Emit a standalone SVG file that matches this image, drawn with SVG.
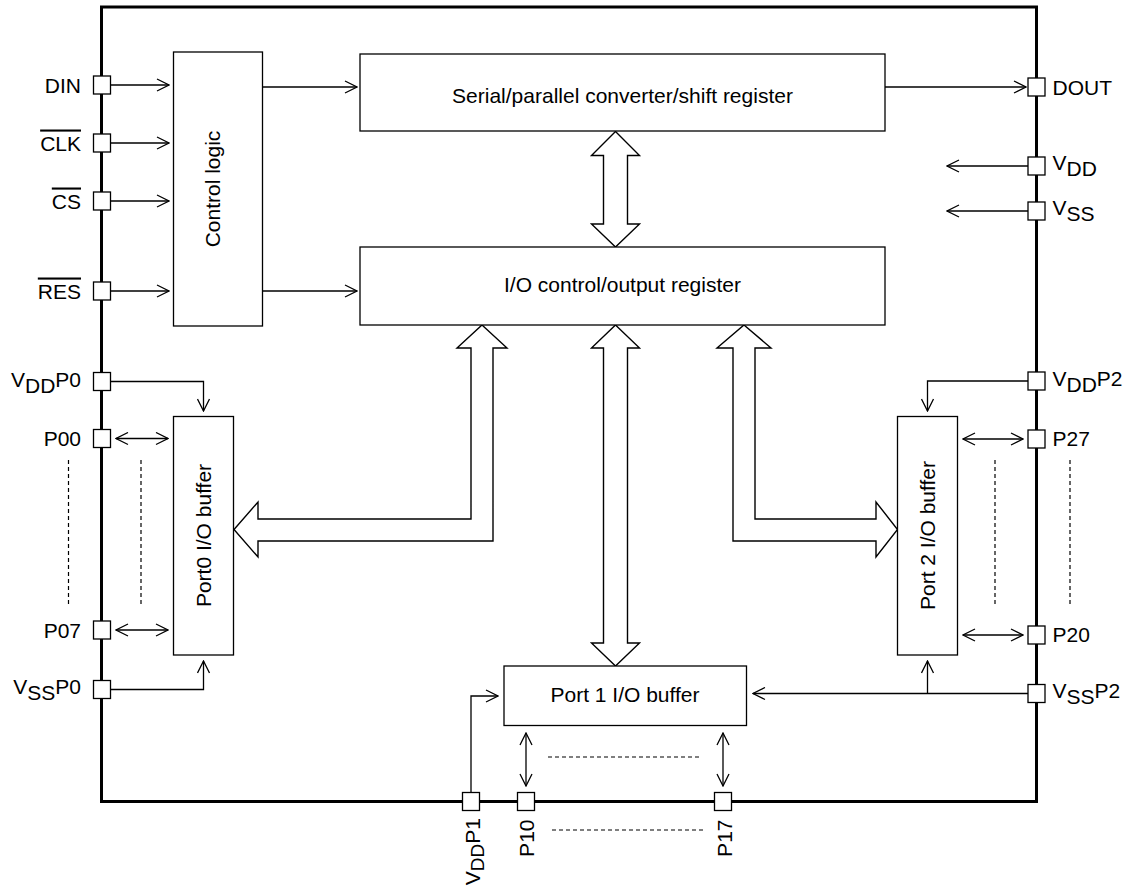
<svg xmlns="http://www.w3.org/2000/svg" width="1128" height="888" viewBox="0 0 1128 888">
  <style>
    text { font-family: "Liberation Sans", Arial, sans-serif; font-size: 21px; fill: #000; }
    .box { fill: #fff; stroke: #000; stroke-width: 1.3; }
    .pin { fill: #fff; stroke: #000; stroke-width: 1.3; }
    .w { fill: none; stroke: #000; stroke-width: 1.3; }
    .a { marker-end: url(#ah); }
    .d { marker-start: url(#ah); marker-end: url(#ah); }
    .dash { fill: none; stroke: #000; stroke-width: 1.2; stroke-dasharray: 4 3; }
    .bus { fill: #fff; stroke: #000; stroke-width: 1.4; stroke-linejoin: miter; }
    .ov { text-decoration: overline; }
    .mid { text-anchor: middle; }
    .end { text-anchor: end; }
    .sub { font-size: 19px; }
  </style>
  <defs>
    <marker id="ah" viewBox="0 0 14 14" refX="13" refY="7" markerWidth="14" markerHeight="14" markerUnits="userSpaceOnUse" orient="auto-start-reverse">
      <path d="M1,1 L13,7 L1,13" fill="none" stroke="#000" stroke-width="1.3"/>
    </marker>
  </defs>

  <rect id="frame" x="101.5" y="7" width="935" height="794.5" fill="#fff" stroke="#000" stroke-width="3"/>

  <g id="connectors">
    <path class="w a" d="M111,85 H169"/>
    <path class="w a" d="M111,143 H169"/>
    <path class="w a" d="M111,201 H169"/>
    <path class="w a" d="M111,291 H169"/>
    <path class="w a" d="M262.5,87 H357"/>
    <path class="w a" d="M262.5,291 H357"/>
    <path class="w a" d="M885,87 H1026"/>
    <path class="w a" d="M1028,166 H947"/>
    <path class="w a" d="M1028,211 H947"/>
    <path class="w a" d="M111,381.5 H203.5 V411"/>
    <path class="w d" d="M116,438.5 H168"/>
    <path class="w d" d="M116,630 H168"/>
    <path class="w a" d="M111,689.5 H203.5 V661"/>
    <path class="w a" d="M1028,381 H927.5 V411"/>
    <path class="w d" d="M963,439 H1023"/>
    <path class="w d" d="M963,635 H1023"/>
    <path class="w a" d="M1028,693.5 H753"/>
    <path class="w a" d="M927.5,693.5 V661"/>
    <path class="w a" d="M471,792 V696 H498"/>
    <path class="w d" d="M526,733 V786"/>
    <path class="w d" d="M723,733 V786"/>
    <path class="dash" d="M68.5,460 V607"/>
    <path class="dash" d="M141,460 V607"/>
    <path class="dash" d="M995,460 V605"/>
    <path class="dash" d="M1070,460 V605"/>
    <path class="dash" d="M548,757 H702"/>
    <path class="dash" d="M552,830 H705"/>
    <polygon class="bus" points="615.5,131.5 639.5,155.5 627.5,155.5 627.5,224 639.5,224 615.5,247 591.5,224 603.5,224 603.5,155.5 591.5,155.5"/>
    <polygon class="bus" points="615.5,325 639.5,348 627.5,348 627.5,643 639.5,643 615.5,666 591.5,643 603.5,643 603.5,348 591.5,348"/>
    <polygon class="bus" points="482,325 507,348 493,348 493,541 258,541 258,557 234,529.5 258,502 258,519 471,519 471,348 457,348"/>
    <polygon class="bus" points="744,325 771,348 755,348 755,519 876,519 876,502 897.5,529.5 876,557 876,541 733,541 733,348 717,348"/>
  </g>

  <g id="control-logic">
    <rect class="box" x="173.5" y="52" width="89" height="274"/>
    <text class="mid" transform="translate(220,189) rotate(-90)">Control logic</text>
  </g>
  <g id="shift-register">
    <rect class="box" x="360" y="54" width="525" height="77"/>
    <text class="mid" x="622.5" y="103">Serial/parallel converter/shift register</text>
  </g>
  <g id="io-control">
    <rect class="box" x="360" y="247" width="525" height="78"/>
    <text class="mid" x="622.5" y="292">I/O control/output register</text>
  </g>
  <g id="port0">
    <rect class="box" x="173.5" y="416.5" width="60" height="238.5"/>
    <text class="mid" transform="translate(210.5,535.5) rotate(-90)">Port0 I/O buffer</text>
  </g>
  <g id="port2">
    <rect class="box" x="897.5" y="416.5" width="60" height="238.5"/>
    <text class="mid" transform="translate(935,535.5) rotate(-90)">Port 2 I/O buffer</text>
  </g>
  <g id="port1">
    <rect class="box" x="504" y="666" width="242.5" height="59.5"/>
    <text class="mid" x="625" y="702">Port 1 I/O buffer</text>
  </g>

  <g id="pin-din"><rect class="pin" x="93.5" y="76" width="17" height="18"/><text class="end" x="81" y="93">DIN</text></g>
  <g id="pin-clk"><rect class="pin" x="93.5" y="134" width="17" height="18"/><text class="end ov" x="81" y="150.5">CLK</text></g>
  <g id="pin-cs"><rect class="pin" x="93.5" y="192" width="17" height="18"/><text class="end ov" x="81" y="208.5">CS</text></g>
  <g id="pin-res"><rect class="pin" x="93.5" y="282" width="17" height="18"/><text class="end ov" x="81" y="298.5">RES</text></g>
  <g id="pin-vddp0"><rect class="pin" x="93.5" y="372.5" width="17" height="18"/><text class="end" x="81" y="387">V<tspan dy="6">DD</tspan><tspan dy="-6">P0</tspan></text></g>
  <g id="pin-p00"><rect class="pin" x="93.5" y="429.5" width="17" height="18"/><text class="end" x="81" y="446">P00</text></g>
  <g id="pin-p07"><rect class="pin" x="93.5" y="621" width="17" height="18"/><text class="end" x="81" y="637.5">P07</text></g>
  <g id="pin-vssp0"><rect class="pin" x="93.5" y="680.5" width="17" height="18"/><text class="end" x="81" y="694">V<tspan dy="6">SS</tspan><tspan dy="-6">P0</tspan></text></g>

  <g id="pin-dout"><rect class="pin" x="1028" y="78" width="17" height="18"/><text x="1052.5" y="94.5">DOUT</text></g>
  <g id="pin-vdd"><rect class="pin" x="1028" y="157" width="17" height="18"/><text x="1052.5" y="170">V<tspan dy="5.5">DD</tspan></text></g>
  <g id="pin-vss"><rect class="pin" x="1028" y="202" width="17" height="18"/><text x="1052.5" y="215">V<tspan dy="5.5">SS</tspan></text></g>
  <g id="pin-vddp2"><rect class="pin" x="1028" y="372" width="17" height="18"/><text x="1052.5" y="386">V<tspan dy="6">DD</tspan><tspan dy="-6">P2</tspan></text></g>
  <g id="pin-p27"><rect class="pin" x="1028" y="430" width="17" height="18"/><text x="1052.5" y="446">P27</text></g>
  <g id="pin-p20"><rect class="pin" x="1028" y="626" width="17" height="18"/><text x="1052.5" y="642">P20</text></g>
  <g id="pin-vssp2"><rect class="pin" x="1028" y="684.5" width="17" height="18"/><text x="1052.5" y="698">V<tspan dy="6">SS</tspan><tspan dy="-6">P2</tspan></text></g>

  <g id="pin-vddp1"><rect class="pin" x="462.5" y="792.5" width="17" height="18"/><text class="end" transform="translate(479.5,818) rotate(-90)">V<tspan class="sub" dy="4">DD</tspan><tspan dy="-4">P1</tspan></text></g>
  <g id="pin-p10"><rect class="pin" x="517.5" y="792.5" width="17" height="18"/><text class="end" transform="translate(534,819.5) rotate(-90)">P10</text></g>
  <g id="pin-p17"><rect class="pin" x="714.5" y="792.5" width="17" height="18"/><text class="end" transform="translate(731.5,819.5) rotate(-90)">P17</text></g>
</svg>
